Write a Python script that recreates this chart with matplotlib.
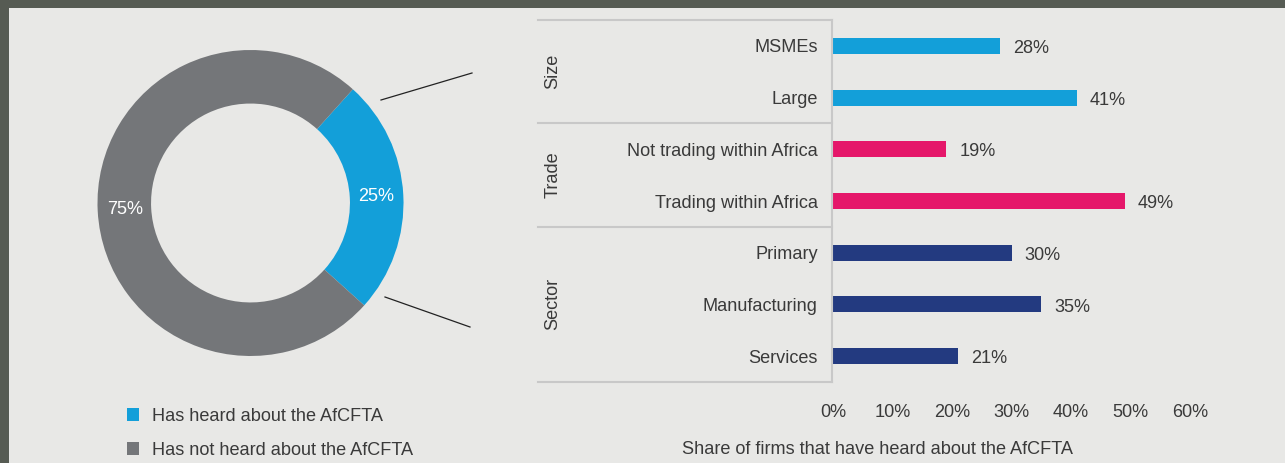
import matplotlib
matplotlib.use("Agg")
import matplotlib.pyplot as plt
from matplotlib.patches import Rectangle, Patch
from matplotlib.lines import Line2D
import numpy as np

plt.rcParams['font.family'] = ['Liberation Sans', 'DejaVu Sans']

# ---- data ----
pie_labels = ["Has heard about the AfCFTA", "Has not heard about the AfCFTA"]
pie_values = [25, 75]
pie_colors = ["#139fd9", "#747679"]

categories = ["MSMEs", "Large", "Not trading within Africa", "Trading within Africa",
              "Primary", "Manufacturing", "Services"]
values = [28, 41, 19, 49, 30, 35, 21]
bar_colors = ["#139fd9", "#139fd9", "#e5176a", "#e5176a", "#233a80", "#233a80", "#233a80"]
groups = ["Size", "Trade", "Sector"]
group_sizes = [2, 2, 3]
xticks = [0, 10, 20, 30, 40, 50, 60]
xticklabels = ["0%", "10%", "20%", "30%", "40%", "50%", "60%"]
xlabel = "Share of firms that have heard about the AfCFTA"

W, H = 1285, 463
TXT = "#3a3a3a"
FS = 13.1

fig = plt.figure(figsize=(W / 100, H / 100), dpi=100)
fig.patch.set_facecolor("#565b53")
fig.patches.append(Rectangle((9 / W, 0), 1 - 9 / W, 1 - 8 / H, transform=fig.transFigure,
                             facecolor="#e8e8e6", edgecolor="none", zorder=-10))

# ---- donut ----
cx, cy, R = 250.5, 203, 153
axp = fig.add_axes([(cx - R) / W, (H - cy - R) / H, 2 * R / W, 2 * R / H])
axp.patch.set_alpha(0)
wedges, texts, autotexts = axp.pie(
    pie_values, colors=pie_colors, startangle=48, counterclock=False,
    wedgeprops=dict(width=0.35, edgecolor="none"),
    autopct=lambda p: f"{p:.0f}%", pctdistance=0.82,
    textprops=dict(color="white", fontsize=FS))
axp.set_xlim(-1, 1)
axp.set_ylim(-1, 1)
axp.set_aspect("equal")
axp.axis("off")

# connector lines
for (xa, ya), (xb, yb) in [((381, 100), (472, 73)), ((385, 297), (470, 327))]:
    fig.add_artist(Line2D([xa / W, xb / W], [1 - ya / H, 1 - yb / H], transform=fig.transFigure,
                          color="#222222", lw=0.9))

# legend
handles = [Patch(facecolor=c, edgecolor="none") for c in pie_colors]
fig.legend(handles, pie_labels, loc="upper left", bbox_to_anchor=(127 / W, 1 - 408 / H),
           frameon=False, fontsize=FS, handlelength=0.68, handleheight=0.68,
           handletextpad=0.68, labelspacing=0.92, labelcolor=TXT, borderaxespad=0, borderpad=0)

# ---- bars ----
x0, x1 = 833, 1190
top, bot = 20, 382
axb = fig.add_axes([x0 / W, (H - bot) / H, (x1 - x0) / W, (bot - top) / H])
axb.patch.set_alpha(0)
ypos = np.arange(len(categories))
axb.barh(ypos, values, height=0.31, color=bar_colors)
axb.set_xlim(0, 60)
axb.set_ylim(len(categories) - 0.5, -0.5)
for s in axb.spines.values():
    s.set_visible(False)
axb.set_yticks(ypos)
axb.set_yticklabels(categories, fontsize=FS, color=TXT)
axb.tick_params(axis="y", length=0, pad=11)
axb.set_xticks(xticks)
axb.set_xticklabels(xticklabels, fontsize=FS, color=TXT)
axb.tick_params(axis="x", length=0, pad=16)

for y, v in zip(ypos, values):
    axb.text(v + 2.2, y + 0.05, f"{v}%", va="center", ha="left", fontsize=FS, color=TXT)

# group box
tr = axb.get_yaxis_transform()
lx = (538 - x0) / (x1 - x0)
bounds = np.concatenate([[0], np.cumsum(group_sizes)]) - 0.5
LC = "#c8c8c8"
for b in bounds:
    axb.add_line(Line2D([lx, -0.003], [b, b], transform=tr, color=LC, lw=1.5, clip_on=False))
axb.add_line(Line2D([-0.003, -0.003], [bounds[0], bounds[-1]], transform=tr, color=LC, lw=1.5,
                    clip_on=False))
gx = (553 - x0) / (x1 - x0)
for g, a, b in zip(groups, bounds[:-1], bounds[1:]):
    axb.text(gx, (a + b) / 2, g, transform=tr, rotation=90, ha="center", va="center",
             fontsize=FS, color=TXT)

fig.text(878 / W, 1 - 449 / H, xlabel, ha="center", va="center", fontsize=FS, color=TXT)

fig.savefig("out.png", dpi=100, facecolor=fig.get_facecolor())
